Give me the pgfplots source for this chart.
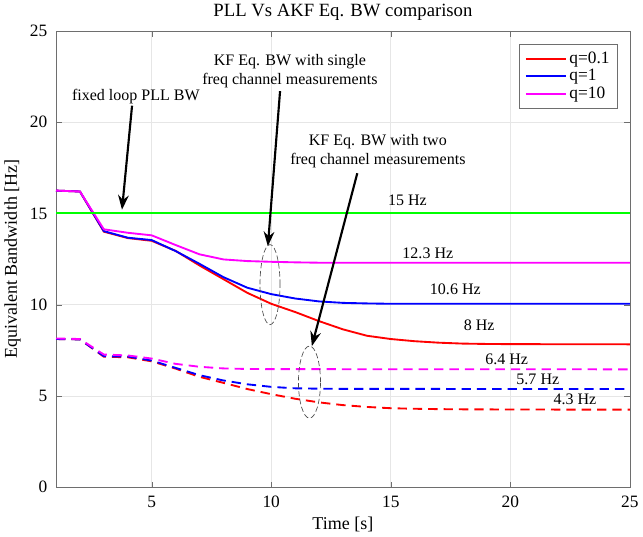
\documentclass[border=0pt]{standalone}
\usepackage{fontspec}
\setmainfont{Liberation Serif}
\usepackage{pgfplots}
\pgfplotsset{compat=1.18}
\usetikzlibrary{arrows.meta}

\definecolor{gridgray}{RGB}{230,230,230}
\definecolor{axgray}{RGB}{110,110,110}
\definecolor{mred}{RGB}{255,0,0}
\definecolor{mblue}{RGB}{0,0,255}
\definecolor{mmag}{RGB}{255,0,255}
\definecolor{mgreen}{RGB}{0,255,0}

\begin{document}
\begin{tikzpicture}
\begin{axis}[
    scale only axis,
    width=430pt, height=342pt,
    xmin=1, xmax=25, ymin=0, ymax=25,
    xtick={5,10,15,20,25},
    ytick={0,5,10,15,20,25},
    tick align=inside,
    tick style={axgray},
    axis line style={axgray},
    grid=major,
    major grid style={gridgray, line width=0.5pt},
    /pgf/number format/assume math mode=true,
    ticklabel style={font=\fontsize{13}{15}\selectfont},
    xticklabel style={yshift=-3pt},
    yticklabel style={xshift=-3pt},
    xlabel={Time [s]},
    ylabel={Equivalent Bandwidth [Hz]},
    label style={font=\fontsize{13.5}{16}\selectfont},
    title={PLL Vs AKF Eq. BW comparison},
    title style={font=\fontsize{14}{16}\selectfont, yshift=-2pt},
    legend style={at={(rel axis cs:0.979,0.972)}, anchor=north east,
        draw=axgray, font=\fontsize{13}{15}\selectfont,
        row sep=-1pt, inner sep=4pt},
    legend cell align=left,
    legend image code/.code={\draw[#1] (0cm,0cm) -- (1.05cm,0cm);},
    every axis plot/.append style={line width=1.4pt},
    clip=false,
]

% solid curves: single freq channel
\addplot[mred] coordinates {
 (1,16.25) (2,16.2) (3,14.0) (4,13.65) (5,13.5) (6,12.95) (7,12.15) (8,11.4)
 (9,10.65) (10,10.05) (11,9.6) (12,9.1) (13,8.65) (14,8.3) (15,8.12) (16,8.0)
 (17,7.92) (18,7.87) (19,7.85) (20,7.84) (25,7.83)
};
\addplot[mblue] coordinates {
 (1,16.25) (2,16.2) (3,14.03) (4,13.67) (5,13.54) (6,12.94) (7,12.24) (8,11.51)
 (9,10.93) (10,10.58) (11,10.34) (12,10.18) (13,10.1) (14,10.07) (15,10.05) (25,10.05)
};
\addplot[mmag] coordinates {
 (1,16.25) (2,16.2) (3,14.13) (4,13.94) (5,13.8) (6,13.27) (7,12.76) (8,12.48)
 (9,12.39) (10,12.35) (11,12.32) (12,12.3) (25,12.3)
};
\legend{q=0.1, q=1, q=10}

% fixed loop PLL
\addplot[mgreen, forget plot] coordinates {(1,15) (25,15)};

% dashed curves: two freq channels
\addplot[mred, dash pattern=on 7pt off 4.5pt, forget plot] coordinates {
 (1,8.12) (2,8.1) (3,7.15) (4,7.12) (5,6.9) (6,6.5) (7,6.05) (8,5.72) (9,5.38)
 (10,5.1) (11,4.85) (12,4.65) (13,4.5) (14,4.4) (15,4.33) (16,4.3) (17,4.28)
 (18,4.27) (20,4.26) (25,4.25)
};
\addplot[mblue, dash pattern=on 7pt off 4.5pt, forget plot] coordinates {
 (1,8.12) (2,8.1) (3,7.18) (4,7.16) (5,6.94) (6,6.54) (7,6.14) (8,5.85) (9,5.64)
 (10,5.5) (11,5.42) (12,5.4) (13,5.39) (25,5.38)
};
\addplot[mmag, dash pattern=on 7pt off 4.5pt, forget plot] coordinates {
 (1,8.15) (2,8.12) (3,7.27) (4,7.22) (5,7.05) (6,6.76) (7,6.6) (8,6.51) (9,6.48)
 (10,6.47) (25,6.46)
};

% annotations
\begin{scope}[font=\fontsize{12}{14}\selectfont]
\node at (axis cs:4.34,21.4) {fixed loop PLL BW};
\node[align=center] at (axis cs:10.78,22.8) {KF Eq. BW with single\\freq channel measurements};
\node[align=center] at (axis cs:14.46,18.4) {KF Eq. BW with two\\freq channel measurements};
\node at (axis cs:15.7,15.7) {15 Hz};
\node at (axis cs:16.55,12.8) {12.3 Hz};
\node at (axis cs:17.7,10.85) {10.6 Hz};
\node at (axis cs:18.7,8.9) {8 Hz};
\node at (axis cs:19.85,7.0) {6.4 Hz};
\node at (axis cs:21.15,5.9) {5.7 Hz};
\node at (axis cs:22.7,4.82) {4.3 Hz};
\end{scope}

\draw[line width=1.6pt, -{Stealth[length=11pt,width=8pt]}] (axis cs:4.18,20.9) -- (axis cs:3.76,15.2);
\draw[line width=1.6pt, -{Stealth[length=11pt,width=8pt]}] (axis cs:10.37,21.7) -- (axis cs:9.86,13.2);
\draw[line width=1.6pt, -{Stealth[length=11pt,width=8pt]}] (axis cs:13.6,17.2) -- (axis cs:11.7,7.73);

\draw[dash pattern=on 4pt off 2pt, black!70, line width=0.5pt] (axis cs:9.95,11.1) ellipse [x radius=7.5pt, y radius=30pt];
\draw[dash pattern=on 4pt off 2pt, black!70, line width=0.5pt] (axis cs:11.6,5.76) ellipse [x radius=8.25pt, y radius=27pt];

\end{axis}
\end{tikzpicture}
\end{document}
